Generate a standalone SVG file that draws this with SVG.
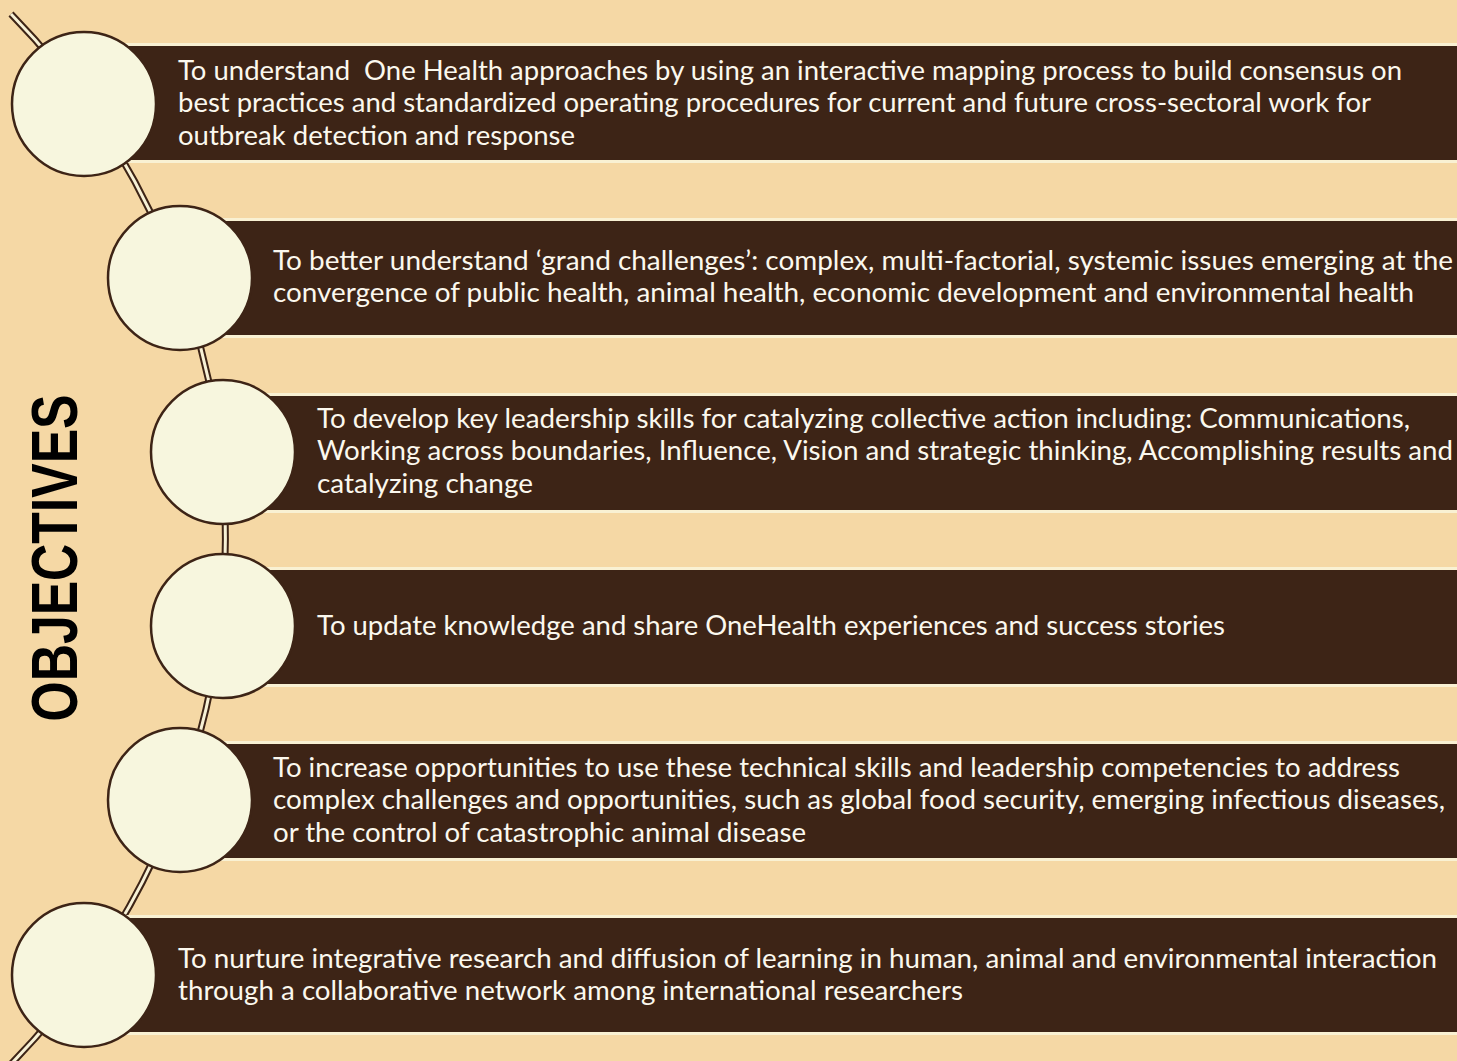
<svg xmlns="http://www.w3.org/2000/svg" width="1457" height="1061" viewBox="0 0 1457 1061">
<style>
.bg{fill:#F5D8A5}
.edge{fill:#F9F1D3}
.band{fill:#3D2416}
.dot{fill:#F7F6DE;stroke:#3D2416;stroke-width:2.5}
.txt{font-family:Lato,"Open Sans",sans-serif;font-size:26px;fill:#FBF8EE;white-space:pre}
.arcO{fill:none;stroke:#3D2416;stroke-width:7}
.arcI{fill:none;stroke:#F7F1D6;stroke-width:3}
.title{font-family:"Liberation Sans",Arial,sans-serif;font-weight:bold;font-size:64px;fill:#000}
</style>
<rect class="bg" x="0" y="0" width="1457" height="1061"/>
<g id="connectors">
<path class="arcO" d="M 11 14 A 750 750 0 0 1 11 1064"/>
<path class="arcI" d="M 11 14 A 750 750 0 0 1 11 1064"/>
</g>
<text class="title" transform="translate(77,558) rotate(-90)" x="0" y="0" text-anchor="middle" textLength="327" lengthAdjust="spacingAndGlyphs">OBJECTIVES</text>
<g id="node1">
<rect class="edge" x="84" y="43" width="1373" height="120"/>
<rect class="band" x="84" y="46" width="1373" height="114"/>
<circle class="dot" cx="84" cy="104" r="72"/>
<text class="txt" x="178" y="80" textLength="1224" lengthAdjust="spacingAndGlyphs" xml:space="preserve">To understand  One Health approaches by using an interactive mapping process to build consensus on</text>
<text class="txt" x="178" y="112" textLength="1193" lengthAdjust="spacingAndGlyphs">best practices and standardized operating procedures for current and future cross-sectoral work for</text>
<text class="txt" x="178" y="145" textLength="397" lengthAdjust="spacingAndGlyphs">outbreak detection and response</text>
</g>
<g id="node2">
<rect class="edge" x="180" y="218" width="1277" height="120"/>
<rect class="band" x="180" y="221" width="1277" height="114"/>
<circle class="dot" cx="180" cy="278" r="72"/>
<text class="txt" x="273" y="270" textLength="1180" lengthAdjust="spacingAndGlyphs">To better understand ‘grand challenges’: complex, multi-factorial, systemic issues emerging at the</text>
<text class="txt" x="273" y="302" textLength="1141" lengthAdjust="spacingAndGlyphs">convergence of public health, animal health, economic development and environmental health</text>
</g>
<g id="node3">
<rect class="edge" x="224" y="393" width="1233" height="120"/>
<rect class="band" x="224" y="396" width="1233" height="114"/>
<circle class="dot" cx="223" cy="452" r="72"/>
<text class="txt" x="317" y="428" textLength="1093" lengthAdjust="spacingAndGlyphs">To develop key leadership skills for catalyzing collective action including: Communications,</text>
<text class="txt" x="317" y="460" textLength="1136" lengthAdjust="spacingAndGlyphs">Working across boundaries, Influence, Vision and strategic thinking, Accomplishing results and</text>
<text class="txt" x="317" y="493" textLength="216" lengthAdjust="spacingAndGlyphs">catalyzing change</text>
</g>
<g id="node4">
<rect class="edge" x="224" y="567" width="1233" height="120"/>
<rect class="band" x="224" y="570" width="1233" height="114"/>
<circle class="dot" cx="223" cy="626" r="72"/>
<text class="txt" x="317" y="635" textLength="908" lengthAdjust="spacingAndGlyphs">To update knowledge and share OneHealth experiences and success stories</text>
</g>
<g id="node5">
<rect class="edge" x="180" y="741" width="1277" height="120"/>
<rect class="band" x="180" y="744" width="1277" height="114"/>
<circle class="dot" cx="180" cy="800" r="72"/>
<text class="txt" x="273" y="777" textLength="1127" lengthAdjust="spacingAndGlyphs">To increase opportunities to use these technical skills and leadership competencies to address</text>
<text class="txt" x="273" y="809" textLength="1172" lengthAdjust="spacingAndGlyphs">complex challenges and opportunities, such as global food security, emerging infectious diseases,</text>
<text class="txt" x="273" y="842" textLength="533" lengthAdjust="spacingAndGlyphs">or the control of catastrophic animal disease</text>
</g>
<g id="node6">
<rect class="edge" x="84" y="915" width="1373" height="120"/>
<rect class="band" x="84" y="918" width="1373" height="114"/>
<circle class="dot" cx="84" cy="975" r="72"/>
<text class="txt" x="178" y="968" textLength="1259" lengthAdjust="spacingAndGlyphs">To nurture integrative research and diffusion of learning in human, animal and environmental interaction</text>
<text class="txt" x="178" y="1000" textLength="785" lengthAdjust="spacingAndGlyphs">through a collaborative network among international researchers</text>
</g>
</svg>
